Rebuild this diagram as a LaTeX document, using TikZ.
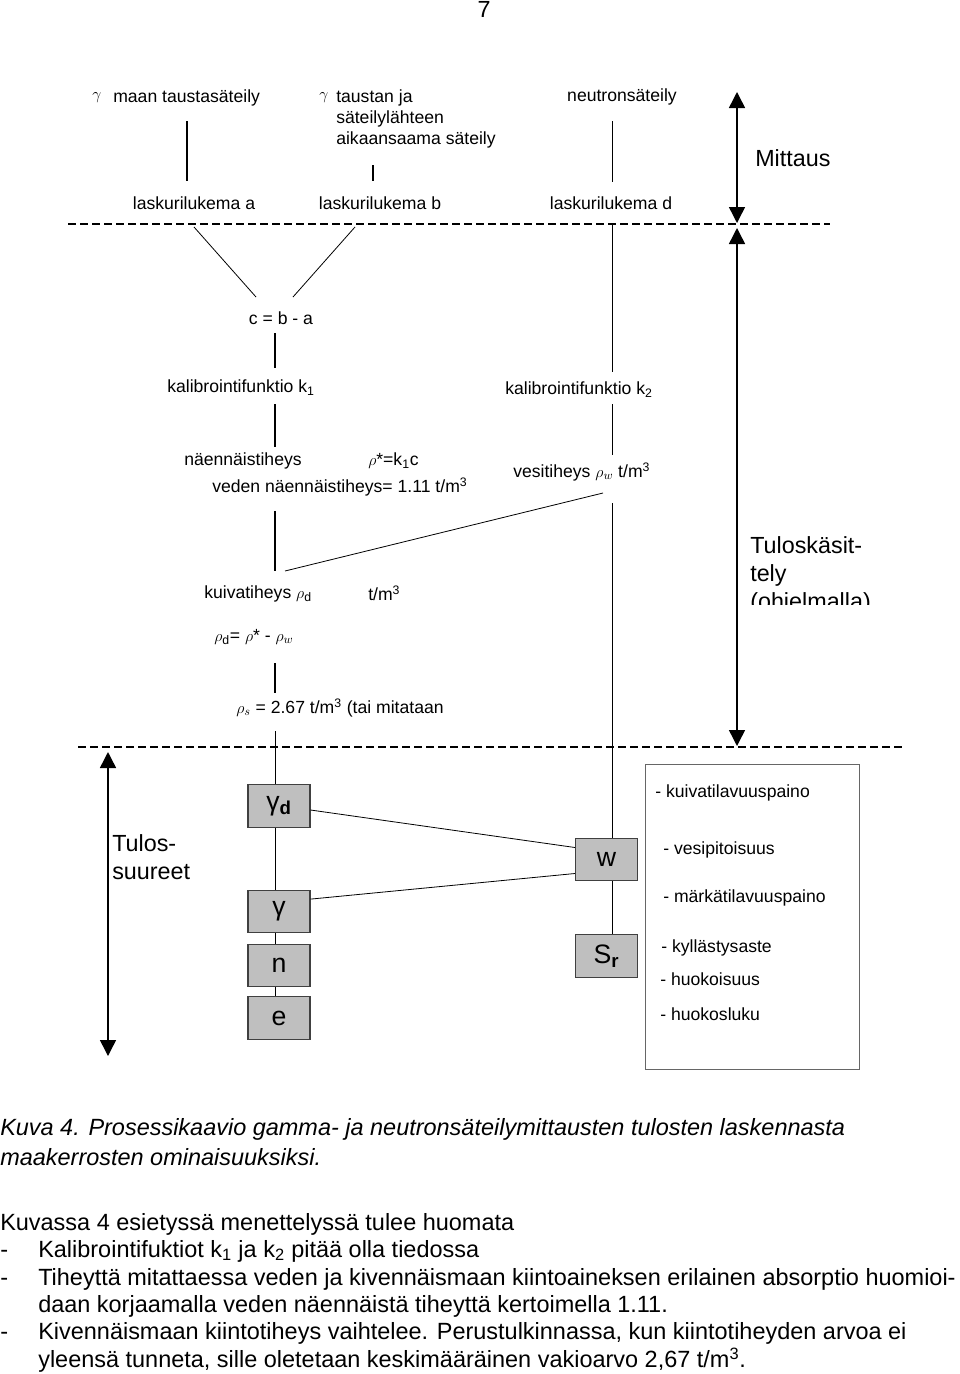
\documentclass[tikz,border=0pt]{standalone}
\usepackage{fontspec}
\setmainfont{Liberation Sans}
\usetikzlibrary{arrows.meta}
\begin{document}
\begin{tikzpicture}[x=0.75pt,y=-0.75pt,
  lbl/.style={font=\fontsize{13.2}{15.8}\selectfont, inner sep=0pt},
  big/.style={font=\fontsize{17.5}{21}\selectfont, inner sep=0pt, align=left},
  body/.style={font=\fontsize{17.6}{21}\selectfont, inner sep=0pt, anchor=west},
  thin/.style={line width=0.6pt},
  thick/.style={line width=1pt},
  dash line/.style={line width=1.1pt, dash pattern=on 6pt off 3pt},
  dimarrow/.style={line width=1.1pt, {Triangle[width=12pt,length=12pt]}-{Triangle[width=12pt,length=12pt]}},
  qbox/.style={draw=black!75, fill=black!25, line width=0.8pt, minimum width=46.5pt, minimum height=32pt, inner sep=0pt, font=\fontsize{20}{22}\selectfont},
  rlbl/.style={font=\fontsize{13.2}{15.8}\selectfont, inner sep=0pt, anchor=west}
]
\useasboundingbox (0,0) rectangle (960,1374);

% page number
\node[big] (pg) at (484,9) {7};

% top labels
\node[lbl, anchor=west] (g1) at (92,98) {$\gamma$};
\node[lbl, anchor=west] (t1) at (113,98) {maan taustasäteily};
\node[lbl, anchor=west] (g2) at (319,98) {$\gamma$};
\node[lbl, anchor=north west, align=left] (t2) at (336,89) {taustan ja\\säteilylähteen\\aikaansaama säteily};
\node[lbl] (t3) at (622,97) {neutronsäteily};

\coordinate (v1a) at (187,121); \coordinate (v1b) at (187,181);
\coordinate (v2a) at (373,165); \coordinate (v2b) at (373,181);
\coordinate (v3a) at (612,121); \coordinate (v3b) at (612,182);
\draw[thick] (v1a) -- (v1b);
\draw[thick] (v2a) -- (v2b);
\draw[thin] (v3a) -- (v3b);

\node[lbl] (la) at (194,203) {laskurilukema a};
\node[lbl] (lb) at (380,203) {laskurilukema b};
\node[lbl] (ld) at (611,203) {laskurilukema d};

% dashed separators
\coordinate (d1a) at (68,224); \coordinate (d1b) at (830,224);
\draw[dash line] (d1a) -- (d1b);
\coordinate (d2a) at (78,747); \coordinate (d2b) at (905,747);
\draw[dash line] (d2a) -- (d2b);

% Mittaus
\coordinate (m1) at (737,92); \coordinate (m2) at (737,223);
\draw[dimarrow] (m1) -- (m2);
\node[big, anchor=west] (mit) at (755,158) {Mittaus};

% Tuloskasittely
\coordinate (tk1) at (737,228); \coordinate (tk2) at (737,746);
\draw[dimarrow] (tk1) -- (tk2);
\begin{scope}
\clip (745,530) rectangle (900,604);
\node[big, anchor=north west] (tk) at (750,536) {Tuloskäsit-\\tely\\(ohjelmalla)};
\end{scope}

% c = b - a
\coordinate (ca) at (194,227); \coordinate (cb) at (256,297);
\coordinate (cc) at (355,227); \coordinate (cd) at (293,297);
\draw[thin] (ca) -- (cb);
\draw[thin] (cc) -- (cd);
\node[lbl] (c) at (281,318) {c = b - a};

\coordinate (x1) at (275,333); \coordinate (x2) at (275,368);
\draw[thick] (x1) -- (x2);
\node[lbl, anchor=west] (k1) at (167,388) {kalibrointifunktio k\textsubscript{1}};
\coordinate (x3) at (275,404); \coordinate (x4) at (275,447);
\draw[thick] (x3) -- (x4);

\node[lbl, anchor=west] (na) at (184,461) {näennäistiheys};
\node[lbl, anchor=west] (rs) at (368,461) {$\rho$*=k\textsubscript{1}c};
\node[lbl, anchor=west] (vn) at (212,487) {veden näennäistiheys= 1.11 t/m\textsuperscript{3}};

\coordinate (x5) at (275,511); \coordinate (x6) at (275,571);
\draw[thick] (x5) -- (x6);

% right column
\coordinate (r1) at (612,224); \coordinate (r2) at (612,372);
\draw[thin] (r1) -- (r2);
\node[lbl, anchor=west] (k2) at (505,390) {kalibrointifunktio k\textsubscript{2}};
\coordinate (r3) at (612,404); \coordinate (r4) at (612,455);
\draw[thin] (r3) -- (r4);
\node[lbl, anchor=west] (vt) at (513,472) {vesitiheys $\rho_w$ t/m\textsuperscript{3}};
\coordinate (dg1) at (603,493); \coordinate (dg2) at (285,571);
\draw[thin] (dg1) -- (dg2);

\node[lbl, anchor=west] (kv) at (204,594) {kuivatiheys $\rho_{\mathrm{d}}$};
\node[lbl, anchor=west] (kvu) at (368,593) {t/m\textsuperscript{3}};
\node[lbl, anchor=west] (rd) at (214,637) {$\rho_{\mathrm{d}}$= $\rho$* - $\rho_w$};
\coordinate (x7) at (275,663); \coordinate (x8) at (275,693);
\draw[thick] (x7) -- (x8);
\node[lbl, anchor=west] (rss) at (236,708) {$\rho_s$ = 2.67 t/m\textsuperscript{3} (tai mitataan};
\coordinate (x9) at (275,731);

% Tulossuureet
\coordinate (ts1) at (108,752); \coordinate (ts2) at (108,1056);
\draw[dimarrow] (ts1) -- (ts2);
\node[big, anchor=north west] (ts) at (112,834) {Tulos-\\suureet};

% boxes
\node[qbox] (gd) at (279,806) {γ\textsubscript{\textbf{d}}};
\node[qbox] (gm) at (279,911.5) {γ};
\node[qbox] (nn) at (279,965.5) {n};
\node[qbox] (ee) at (279,1018) {e};
\node[qbox] (ww) at (606.5,859.5) {w};
\node[qbox] (sr) at (606.5,956) {S\textsubscript{\textbf{r}}};

\draw[thin] (x9) -- (x9 |- gd.north);
\draw[thin] (gd.south -| x9) -- (gm.north -| x9);
\draw[thin] (gm.south -| x9) -- (nn.north -| x9);
\draw[thin] (nn.south -| x9) -- (ee.north -| x9);
\coordinate (r5) at (612,503);
\draw[thin] (r5) -- (r5 |- ww.north);
\draw[thin] (ww.south -| r5) -- (sr.north -| r5);
\draw[thin] ([yshift=-3pt]gd.east) -- ([yshift=9pt]ww.west);
\draw[thin] ([yshift=9.3pt]gm.west -| gm.east) -- ([yshift=-10.5pt]ww.west);

% results box
\node[draw=black!60, line width=0.7pt, minimum width=160.5pt, minimum height=228.75pt, inner sep=0pt] (res) at (752,916.5) {};
\node[rlbl] (i1) at (655,793) {- kuivatilavuuspaino};
\node[rlbl] (i2) at (663,850) {- vesipitoisuus};
\node[rlbl] (i3) at (663,898) {- märkätilavuuspaino};
\node[rlbl] (i4) at (661,948) {- kyllästysaste};
\node[rlbl] (i5) at (660,979) {- huokoisuus};
\node[rlbl] (i6) at (660,1014) {- huokosluku};

% caption
\node[body, font=\fontsize{17.6}{21}\selectfont\itshape] (cap1) at (0,1129) {Kuva 4. Prosessikaavio gamma- ja neutronsäteilymittausten tulosten laskennasta};
\node[body, font=\fontsize{17.6}{21}\selectfont\itshape] (cap2) at (0,1157) {maakerrosten ominaisuuksiksi.};

% body text
\node[body] (b0) at (0,1224) {Kuvassa 4 esietyssä menettelyssä tulee huomata};
\node[body] (b1) at (38,1251) {Kalibrointifuktiot k\textsubscript{1} ja k\textsubscript{2} pitää olla tiedossa};
\node[body, anchor=base west] (d1) at ([xshift=-28.5pt]b1.base west) {-};
\node[body] (b2) at (38,1279) {Tiheyttä mitattaessa veden ja kivennäismaan kiintoaineksen erilainen absorptio huomioi-};
\node[body, anchor=base west] (d2) at ([xshift=-28.5pt]b2.base west) {-};
\node[body] (b3) at (38,1306) {daan korjaamalla veden näennäistä tiheyttä kertoimella 1.11.};
\node[body] (b4) at (38,1333) {Kivennäismaan kiintotiheys vaihtelee. Perustulkinnassa, kun kiintotiheyden arvoa ei};
\node[body, anchor=base west] (d3) at ([xshift=-28.5pt]b4.base west) {-};
\node[body] (b5) at (38,1360) {yleensä tunneta, sille oletetaan keskimääräinen vakioarvo 2,67 t/m\textsuperscript{3}.};
\end{tikzpicture}
\end{document}
